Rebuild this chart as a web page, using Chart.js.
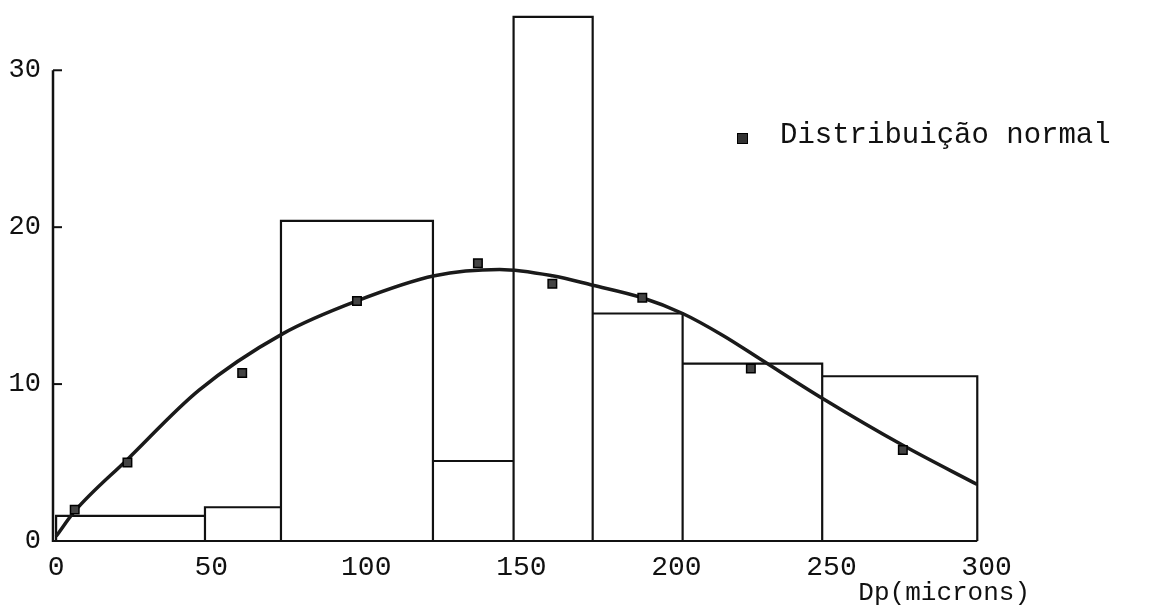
<!DOCTYPE html>
<html>
<head>
<meta charset="utf-8">
<script src="https://cdn.jsdelivr.net/npm/chart.js@4.4.1/dist/chart.umd.min.js"></script>
<style>
  html, body { margin: 0; padding: 0; background: #fff; }
  #wrap { position: relative; width: 1164px; height: 615px; }
  #legendMark { position: absolute; left: 737px; top: 133px; width: 11px; height: 11px; background: #333; border: 1px solid #000; box-sizing: border-box; }
  #legendText { position: absolute; left: 780px; top: 121px; font: 29px "Liberation Mono", monospace; line-height: 29px; color: #111; white-space: nowrap; }
</style>
</head>
<body>
<div id="wrap">
  <canvas id="c" width="1164" height="615"></canvas>
  <div id="legendMark"></div>
  <div id="legendText">Distribuição normal</div>
</div>
<script>
// ---- data ----
const binEdges   = [0, 48, 72.5, 121.5, 147.5, 173, 202, 247, 297];   // Dp (microns)
const binHeights = [1.6, 2.15, 20.4, 5.1, 33.4, 14.5, 11.3, 10.5];     // frequency (%)

const curveX = [0, 6, 23, 46, 73, 97, 122, 143, 160, 173, 189, 202, 215, 227, 247, 273, 297];
const curveY = [0.3, 1.9, 5.2, 9.6, 13.2, 15.3, 16.9, 17.3, 16.9, 16.3, 15.5, 14.5, 13.1, 11.6, 9.1, 6.1, 3.6];

const normX = [6, 23, 60, 97, 136, 160, 189, 224, 273];
const normY = [2.0, 5.0, 10.7, 15.3, 17.7, 16.4, 15.5, 11.0, 5.8];

const xTicks = [0, 50, 100, 150, 200, 250, 300];
const yTicks = [0, 10, 20, 30];
const xTitle = "Dp(microns)";
const legendLabel = "Distribuição normal";

// ---- build datasets ----
const histPts = [];
for (let i = 0; i < binHeights.length; i++) {
  histPts.push({x: binEdges[i], y: 0});
  histPts.push({x: binEdges[i], y: binHeights[i]});
  histPts.push({x: binEdges[i + 1], y: binHeights[i]});
  histPts.push({x: binEdges[i + 1], y: 0});
}
const curvePts = curveX.map((x, i) => ({x, y: curveY[i]}));
const normPts = normX.map((x, i) => ({x, y: normY[i]}));

const FONT = '"Liberation Mono", monospace';

const axisPlugin = {
  id: 'axisPlugin',
  afterDatasetsDraw(chart) {
    const {ctx, scales: {x, y}, chartArea} = chart;
    ctx.save();
    ctx.strokeStyle = '#111';
    ctx.lineCap = 'butt';
    const ax = chartArea.left;
    ctx.lineWidth = 2.5;
    ctx.beginPath();
    ctx.moveTo(ax, y.getPixelForValue(0) + 1);
    ctx.lineTo(ax, y.getPixelForValue(yTicks[yTicks.length - 1]));
    ctx.stroke();
    ctx.lineWidth = 2;
    yTicks.slice(1).forEach(v => {
      const py = y.getPixelForValue(v);
      ctx.beginPath();
      ctx.moveTo(ax, py);
      ctx.lineTo(ax + 9, py);
      ctx.stroke();
    });
    ctx.lineWidth = 2;
    ctx.beginPath();
    ctx.moveTo(ax, y.getPixelForValue(0));
    ctx.lineTo(x.getPixelForValue(binEdges[binEdges.length - 1]), y.getPixelForValue(0));
    ctx.stroke();
    ctx.restore();
  }
};

new Chart(document.getElementById('c'), {
  type: 'scatter',
  data: {
    datasets: [
      {
        label: 'Histograma',
        data: histPts,
        showLine: true,
        borderColor: '#111',
        borderWidth: 2.2,
        pointRadius: 0,
        fill: false,
        tension: 0,
        order: 3
      },
      {
        label: 'Curva',
        data: curvePts,
        showLine: true,
        borderColor: '#1a1a1a',
        borderWidth: 3.5,
        pointRadius: 0,
        fill: false,
        cubicInterpolationMode: 'monotone',
        order: 2
      },
      {
        label: legendLabel,
        data: normPts,
        showLine: false,
        pointStyle: 'rect',
        pointRadius: 6,
        backgroundColor: '#444',
        borderColor: '#000',
        borderWidth: 1.5,
        order: 1
      }
    ]
  },
  options: {
    responsive: false,
    animation: false,
    layout: { padding: { top: 4, right: 134, left: 0, bottom: 0 } },
    plugins: {
      legend: { display: false },
      tooltip: { enabled: false }
    },
    scales: {
      x: {
        type: 'linear',
        min: -1,
        max: 314,
        grid: { display: false },
        border: { display: false },
        afterBuildTicks: s => { s.ticks = xTicks.map(v => ({value: v})); },
        afterFit: s => { s.height = 74; s.paddingLeft = 0; s.paddingRight = 0; },
        ticks: {
          color: '#111',
          font: { family: FONT, size: 28 },
          padding: 2,
          maxRotation: 0,
          autoSkip: false
        },
        title: {
          display: true,
          text: xTitle,
          align: 'end',
          color: '#111',
          font: { family: FONT, size: 26 },
          padding: { top: 0, bottom: 6 }
        }
      },
      y: {
        type: 'linear',
        min: 0,
        max: 34,
        grid: { display: false },
        border: { display: false },
        afterBuildTicks: s => { s.ticks = yTicks.map(v => ({value: v})); },
        afterFit: s => { s.width = 53; s.paddingTop = 0; s.paddingBottom = 0; },
        ticks: {
          color: '#111',
          font: { family: FONT, size: 27 },
          padding: 4,
          autoSkip: false
        }
      }
    }
  },
  plugins: [axisPlugin]
});
</script>
</body>
</html>
